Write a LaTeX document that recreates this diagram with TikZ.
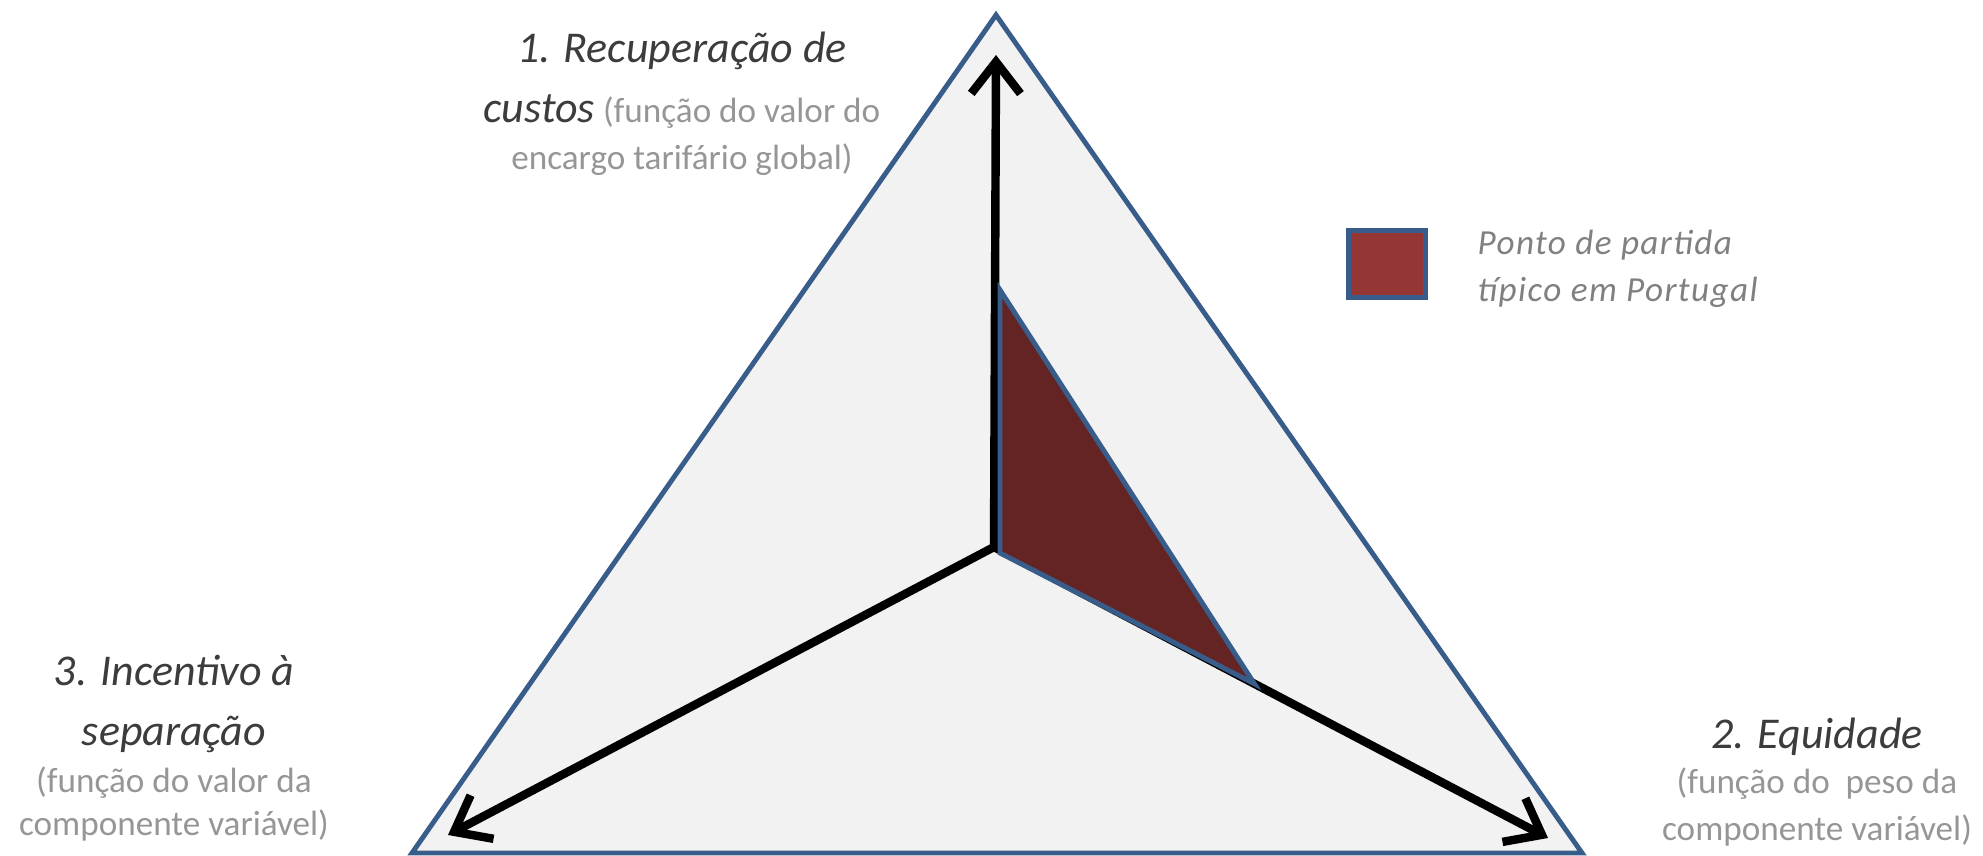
\documentclass[tikz,border=0pt]{standalone}
\usepackage{fontspec}
\setmainfont{Carlito}
\usetikzlibrary{arrows.meta,calc}
\definecolor{myblue}{RGB}{56,93,138}
\definecolor{myfill}{RGB}{242,242,242}
\definecolor{mydark}{RGB}{99,36,35}
\definecolor{mylegend}{RGB}{148,54,52}
\definecolor{mytext}{RGB}{60,60,60}
\definecolor{mysub}{RGB}{150,150,150}
\newcommand{\eixo}[1]{{\fontsize{12.5}{15}\selectfont\itshape\color{mytext}#1}}

\begin{document}
\begin{tikzpicture}[x=0.01cm, y=-0.01cm,
      tri/.style={draw=myblue, line width=1.4pt, fill=myfill},
      arr/.style={-{Straight Barb[length=9pt,width=14pt]}, line width=2.4pt, black},
      zona/.style={draw=myblue, line width=1.4pt, fill=mydark},
      lbl/.style={align=center, text=mysub, inner sep=0pt,
                  font=\fontsize{10}{13.4}\selectfont},
      legbox/.style={draw=myblue, line width=1.4pt, fill=mylegend,
                  minimum width=0.77cm, minimum height=0.67cm, inner sep=0pt},
      legtxt/.style={align=left, text=gray, inner sep=0pt,
                  font=\fontsize{10}{13.4}\selectfont\itshape\addfontfeature{LetterSpace=4}}
    ]
    \useasboundingbox (0,0) rectangle (1983,855);
    % triangulo exterior
    \coordinate (top) at (996,15);
    \coordinate (bl) at (412,853);
    \coordinate (br) at (1582,853);
    \draw[tri] (top) -- (br) -- (bl) -- cycle;
    % eixos
    \coordinate (c) at (994,547);
    \coordinate (tu) at (996,55);
    \coordinate (tl) at (448,835);
    \coordinate (tr) at (1548,838);
    \draw[arr] (c) -- (tu);
    \draw[arr] (c) -- (tl);
    \draw[arr] (c) -- (tr);
    % ponto de partida
    \coordinate (p1) at (1000,290);
    \coordinate (p2) at (1000,553);
    \coordinate (p3) at ($(c)!0.47!(tr)$);
    \draw[zona] (p1) -- (p2) -- (p3) -- cycle;
    % legenda
    \node[legbox] (leg) at (1387,264) {};
    \node[legtxt, anchor=west] (legt) at (1477,269)
      {Ponto de partida\\ típico em Portugal};
    % rotulos
    \node[lbl] (custos) at (682,104)
      {\eixo{1. Recuperação de}\\[3.6pt]
       \eixo{custos} (função do valor do\\
       encargo tarifário global)};
    \node[lbl] (equid) at (1817,782)
      {\eixo{2. Equidade}\\[-0.6pt]
       (função do \ peso da\\[0pt]
       componente variável)};
    \node[lbl] (incent) at (174,748)
      {\eixo{3. Incentivo à}\\[3.6pt]
       \eixo{separação}\\[0pt]
       (função do valor da\\[-1.2pt]
       componente variável)};
  \end{tikzpicture}
\end{document}
